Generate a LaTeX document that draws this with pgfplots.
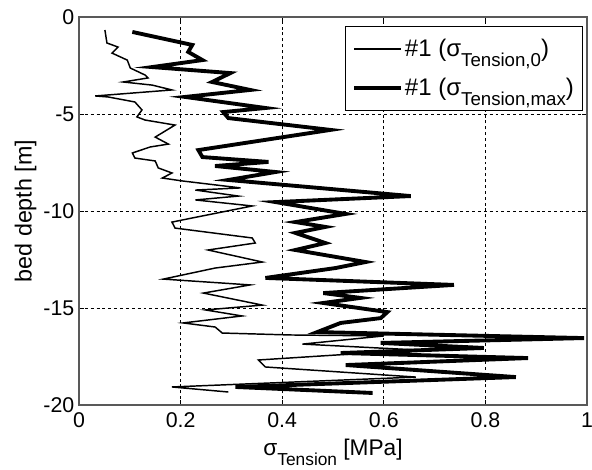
\documentclass[border=0pt]{standalone}
\usepackage{pgfplots}
\pgfplotsset{compat=1.18}
\usepackage{fontspec}
\setmainfont{Liberation Sans}
\newcommand{\sub}[1]{\raisebox{-0.42em}{\fontsize{13}{13}\selectfont #1}}
\newcommand{\lsub}[1]{\raisebox{-0.42em}{\fontsize{14}{14}\selectfont #1}}

\pgfplotstableread{
x y
0.051 -0.67
0.055 -1.34
0.077 -1.55
0.065 -1.86
0.095 -2.22
0.101 -2.63
0.130 -2.99
0.136 -3.14
0.087 -3.35
0.144 -3.51
0.183 -3.76
0.032 -4.07
0.057 -4.12
0.110 -4.38
0.124 -4.79
0.114 -5.15
0.130 -5.31
0.189 -5.57
0.150 -6.19
0.176 -6.55
0.140 -6.70
0.105 -7.01
0.110 -7.27
0.150 -7.42
0.156 -7.78
0.183 -8.04
0.164 -8.30
0.203 -8.45
0.318 -8.81
0.229 -8.92
0.314 -9.23
0.229 -9.43
0.341 -9.74
0.183 -10.57
0.189 -10.88
0.341 -11.39
0.347 -11.65
0.254 -12.01
0.361 -12.63
0.268 -12.94
0.166 -13.51
0.337 -13.81
0.245 -14.23
0.361 -14.85
0.249 -15.10
0.321 -15.41
0.205 -15.77
0.268 -15.98
0.282 -16.29
0.416 -16.39
0.600 -16.44
0.440 -16.86
0.663 -17.16
0.353 -17.68
0.367 -18.04
0.663 -18.56
0.183 -19.07
0.294 -19.33
}\thintable

\pgfplotstableread{
x y
0.105 -0.77
0.223 -1.44
0.215 -1.80
0.243 -2.22
0.144 -2.58
0.298 -2.89
0.262 -3.35
0.337 -3.76
0.209 -4.12
0.367 -4.69
0.284 -4.90
0.294 -5.21
0.495 -5.82
0.235 -6.86
0.243 -7.22
0.373 -7.47
0.268 -7.68
0.387 -7.99
0.294 -8.40
0.653 -9.23
0.387 -9.54
0.525 -10.15
0.426 -10.57
0.485 -10.82
0.426 -11.13
0.485 -11.65
0.426 -12.01
0.564 -12.63
0.505 -12.94
0.367 -13.45
0.738 -13.81
0.481 -14.23
0.554 -14.48
0.481 -14.74
0.607 -15.21
0.594 -15.52
0.515 -15.77
0.469 -16.24
0.994 -16.55
0.594 -16.80
0.797 -17.06
0.515 -17.32
0.884 -17.58
0.525 -17.94
0.860 -18.56
0.308 -19.07
0.578 -19.38
}\thicktable

\begin{document}
\begin{tikzpicture}
\useasboundingbox (-59.25pt,-48pt) rectangle (384.75pt,303.75pt);
\begin{axis}[
  at={(0,0)}, anchor=south west,
  scale only axis, width=381pt, height=291pt,
  xmin=0, xmax=1, ymin=-20, ymax=0,
  xtick={0,0.2,0.4,0.6,0.8,1}, ytick={-20,-15,-10,-5,0},
  xticklabels={0,0.2,0.4,0.6,0.8,1}, yticklabels={-20,-15,-10,-5,0},
  tick label style={font=\fontsize{16}{16}\selectfont},
  xticklabel style={yshift=-2pt},
  tick align=inside, major tick length=4pt,
  tick style={black, line width=0.5pt},
  axis line style={black!65, line width=0.8pt},
  grid=major,
  grid style={black, line width=0.5pt, dash pattern=on 2.2pt off 2.2pt},
  xlabel={σ\sub{Tension} [MPa]},
  ylabel={bed depth [m]},
  xlabel style={font=\fontsize{17}{17}\selectfont, at={([yshift=-38pt]axis description cs:0.5,0)}, anchor=base},
  ylabel style={font=\fontsize{17.5}{17.5}\selectfont, at={([xshift=-40pt]axis description cs:0,0.5)}, anchor=center},
  legend cell align=left,
  legend image code/.code={\draw[#1] (0pt,0pt) -- (35pt,0pt);},
  legend style={at={(1,1)}, anchor=north east, xshift=-3pt, yshift=-6.75pt,
     draw=black, line width=0.6pt, fill=white,
     font=\fontsize{18}{18}\selectfont,
     inner xsep=5pt, inner ysep=8pt, row sep=12pt,
     nodes={inner sep=1.5pt}},
]
\addplot[black, line width=1.1pt, mark=none] table[x=x,y=y] {\thintable};
\addlegendentry{\#1 (σ\lsub{Tension,0})}
\addplot[black, line width=2.9pt, mark=none] table[x=x,y=y] {\thicktable};
\addlegendentry{\#1 (σ\lsub{Tension,max})}
\end{axis}
\end{tikzpicture}
\end{document}
